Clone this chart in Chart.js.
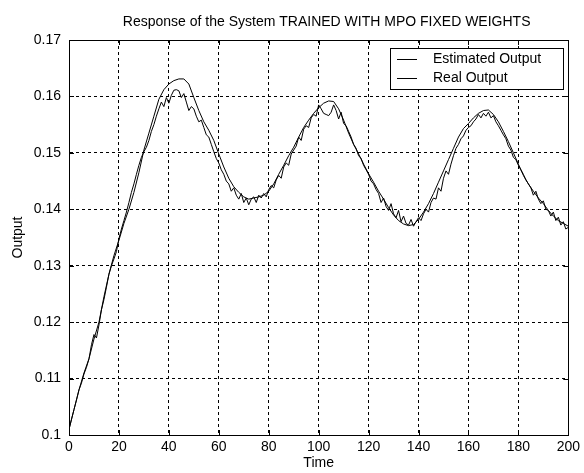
<!DOCTYPE html>
<html>
<head>
<meta charset="utf-8">
<script src="https://cdn.jsdelivr.net/npm/chart.js@4"></script>
<style>
  html, body { margin: 0; padding: 0; background: #fff; }
  #wrap { width: 584px; height: 473px; }
</style>
</head>
<body>
<div id="wrap"><canvas id="chart" width="584" height="473"></canvas></div>
<script>
// chart text
const chartTitle = "Response of the System TRAINED WITH MPO FIXED WEIGHTS";
const xTitle = "Time";
const yTitle = "Output";
const seriesNames = ["Estimated Output", "Real Output"];

// time step between samples of each series
const estStep = 2;
const realStep = 1;

// estimated output, one value every 2 time units (0..200)
const estimatedOutput = [
  0.1010, 0.1045, 0.1080, 0.1110, 0.1135, 0.1170, 0.1200, 0.1245, 0.1285, 0.1318,
  0.1345, 0.1375, 0.1400, 0.1430, 0.1465, 0.1505, 0.1535, 0.1565, 0.1595, 0.1612,
  0.1622, 0.1628, 0.1631, 0.1631, 0.1622, 0.1598, 0.1575, 0.1555, 0.1540, 0.1522,
  0.1498, 0.1475, 0.1455, 0.1440, 0.1430, 0.1422, 0.1418, 0.1420, 0.1422, 0.1425,
  0.1432, 0.1445, 0.1462, 0.1478, 0.1495, 0.1510, 0.1528, 0.1545, 0.1558, 0.1570,
  0.1580, 0.1588, 0.1592, 0.1591, 0.1578, 0.1558, 0.1535, 0.1515, 0.1498, 0.1480,
  0.1463, 0.1448, 0.1432, 0.1418, 0.1403, 0.1390, 0.1380, 0.1374, 0.1371, 0.1373,
  0.1382, 0.1395, 0.1410, 0.1428, 0.1448, 0.1468, 0.1488, 0.1508, 0.1528, 0.1543,
  0.1552, 0.1562, 0.1570, 0.1575, 0.1576, 0.1568, 0.1555, 0.1538, 0.1520, 0.1500,
  0.1480, 0.1460, 0.1445, 0.1432, 0.1420, 0.1410, 0.1398, 0.1388, 0.1380, 0.1375,
  0.1370
];

// real (measured) output, one value every time unit (0..200)
const realOutput = [
  0.1010, 0.1028, 0.1045, 0.1062, 0.1080, 0.1092, 0.1108, 0.1120, 0.1135, 0.1160,
  0.1178, 0.1172, 0.1195, 0.1222, 0.1240, 0.1262, 0.1285, 0.1300, 0.1312, 0.1325,
  0.1348, 0.1365, 0.1380, 0.1395, 0.1412, 0.1430, 0.1445, 0.1462, 0.1478, 0.1492,
  0.1502, 0.1510, 0.1522, 0.1538, 0.1550, 0.1565, 0.1578, 0.1590, 0.1582, 0.1598,
  0.1588, 0.1602, 0.1611, 0.1612, 0.1610, 0.1598, 0.1605, 0.1590, 0.1575, 0.1582,
  0.1578, 0.1565, 0.1555, 0.1558, 0.1545, 0.1532, 0.1528, 0.1515, 0.1502, 0.1490,
  0.1482, 0.1470, 0.1462, 0.1450, 0.1445, 0.1432, 0.1438, 0.1425, 0.1418, 0.1428,
  0.1412, 0.1420, 0.1408, 0.1418, 0.1422, 0.1412, 0.1425, 0.1420, 0.1428, 0.1422,
  0.1435, 0.1442, 0.1438, 0.1452, 0.1460, 0.1455, 0.1475, 0.1482, 0.1478, 0.1498,
  0.1505, 0.1512, 0.1528, 0.1522, 0.1542, 0.1548, 0.1545, 0.1562, 0.1568, 0.1565,
  0.1585, 0.1578, 0.1570, 0.1568, 0.1566, 0.1572, 0.1585, 0.1575, 0.1560, 0.1572,
  0.1552, 0.1548, 0.1538, 0.1528, 0.1515, 0.1508, 0.1495, 0.1490, 0.1478, 0.1470,
  0.1462, 0.1450, 0.1445, 0.1435, 0.1428, 0.1412, 0.1420, 0.1405, 0.1398, 0.1410,
  0.1392, 0.1385, 0.1398, 0.1378, 0.1388, 0.1375, 0.1372, 0.1382, 0.1370, 0.1378,
  0.1385, 0.1380, 0.1392, 0.1400, 0.1395, 0.1412, 0.1420, 0.1418, 0.1438, 0.1432,
  0.1455, 0.1468, 0.1462, 0.1480, 0.1495, 0.1508, 0.1515, 0.1525, 0.1530, 0.1540,
  0.1545, 0.1548, 0.1555, 0.1560, 0.1568, 0.1562, 0.1570, 0.1565, 0.1572, 0.1562,
  0.1566, 0.1555, 0.1548, 0.1540, 0.1532, 0.1525, 0.1512, 0.1505, 0.1492, 0.1488,
  0.1478, 0.1470, 0.1462, 0.1452, 0.1445, 0.1438, 0.1425, 0.1432, 0.1418, 0.1410,
  0.1415, 0.1400, 0.1398, 0.1388, 0.1395, 0.1380, 0.1386, 0.1372, 0.1378, 0.1365,
  0.1368
];

// axis ranges
const xMin = 0, xMax = 200, xStep = 20;
const yMin = 0.1, yMax = 0.17, yStep = 0.01;

const FONT = '"Liberation Sans", Arial, Helvetica, sans-serif';

// MATLAB look: title, box with inward ticks, legend box in the corner
const matlabFrame = {
  id: "matlabFrame",
  afterDraw(chart) {
    const ctx = chart.ctx;
    const area = chart.chartArea;
    const xs = chart.scales.x, ys = chart.scales.y;
    ctx.save();
    ctx.strokeStyle = "#000";
    ctx.lineWidth = 1;
    ctx.setLineDash([]);

    // inward tick marks on all four sides
    ctx.beginPath();
    xs.ticks.forEach(t => {
      const px = Math.round(xs.getPixelForValue(t.value)) + 0.5;
      ctx.moveTo(px, area.bottom); ctx.lineTo(px, area.bottom - 5);
      ctx.moveTo(px, area.top); ctx.lineTo(px, area.top + 5);
    });
    ys.ticks.forEach(t => {
      const py = Math.round(ys.getPixelForValue(t.value)) + 0.5;
      ctx.moveTo(area.left, py); ctx.lineTo(area.left + 5, py);
      ctx.moveTo(area.right, py); ctx.lineTo(area.right - 5, py);
    });
    ctx.stroke();

    // box
    ctx.strokeRect(Math.round(area.left) + 0.5, Math.round(area.top) + 0.5,
      Math.round(area.right - area.left), Math.round(area.bottom - area.top));

    // title
    ctx.fillStyle = "#000";
    ctx.font = "14px " + FONT;
    ctx.textAlign = "center";
    ctx.textBaseline = "middle";
    ctx.fillText(chartTitle, (area.left + area.right) / 2 + 8, 22);

    // legend
    const lx = 390.5, ly = 48.5, lw = 173, lh = 41;
    ctx.fillStyle = "#fff";
    ctx.fillRect(lx, ly, lw, lh);
    ctx.strokeRect(lx, ly, lw, lh);
    ctx.textAlign = "left";
    ctx.fillStyle = "#000";
    chart.data.datasets.forEach((ds, i) => {
      const yy = 59.5 + i * 19;
      ctx.strokeStyle = ds.borderColor;
      ctx.beginPath();
      ctx.moveTo(397, yy); ctx.lineTo(417, yy);
      ctx.stroke();
      ctx.fillText(ds.label, 433, yy);
    });
    ctx.restore();
  }
};

new Chart(document.getElementById("chart"), {
  type: "line",
  data: {
    datasets: [
      {
        label: seriesNames[0],
        data: estimatedOutput.map((v, i) => ({ x: i * estStep, y: v })),
        borderColor: "#000",
        borderWidth: 1,
        pointRadius: 0,
        tension: 0,
        fill: false,
      },
      {
        label: seriesNames[1],
        data: realOutput.map((v, i) => ({ x: i * realStep, y: v })),
        borderColor: "#000",
        borderWidth: 1,
        pointRadius: 0,
        tension: 0,
        fill: false,
      },
    ],
  },
  options: {
    responsive: false,
    animation: false,
    events: [],
    layout: { padding: { top: 40, right: 12, left: 0, bottom: 0 } },
    plugins: {
      legend: { display: false },
      title: { display: false },
      tooltip: { enabled: false },
    },
    scales: {
      x: {
        type: "linear",
        min: xMin,
        max: xMax,
        afterFit(scale) { scale.height = 38; },
        ticks: {
          stepSize: xStep,
          color: "#000",
          font: { family: FONT, size: 14 },
          padding: 4,
          maxRotation: 0,
        },
        grid: { color: "#000", lineWidth: 1, drawTicks: false },
        border: { display: true, color: "#000", dash: [3, 3] },
        title: {
          display: true,
          text: xTitle,
          color: "#000",
          font: { family: FONT, size: 14 },
          padding: { top: 0, bottom: 1 },
        },
      },
      y: {
        type: "linear",
        min: yMin,
        max: yMax,
        afterFit(scale) { scale.width = 69; },
        ticks: {
          stepSize: yStep,
          color: "#000",
          font: { family: FONT, size: 14 },
          padding: 8,
          callback: v => String(+v.toFixed(2)),
        },
        grid: { color: "#000", lineWidth: 1, drawTicks: false },
        border: { display: true, color: "#000", dash: [3, 3] },
        title: {
          display: true,
          text: yTitle,
          color: "#000",
          font: { family: FONT, size: 14 },
          padding: { top: 10, bottom: 0 },
        },
      },
    },
  },
  plugins: [matlabFrame],
});
</script>
</body>
</html>
